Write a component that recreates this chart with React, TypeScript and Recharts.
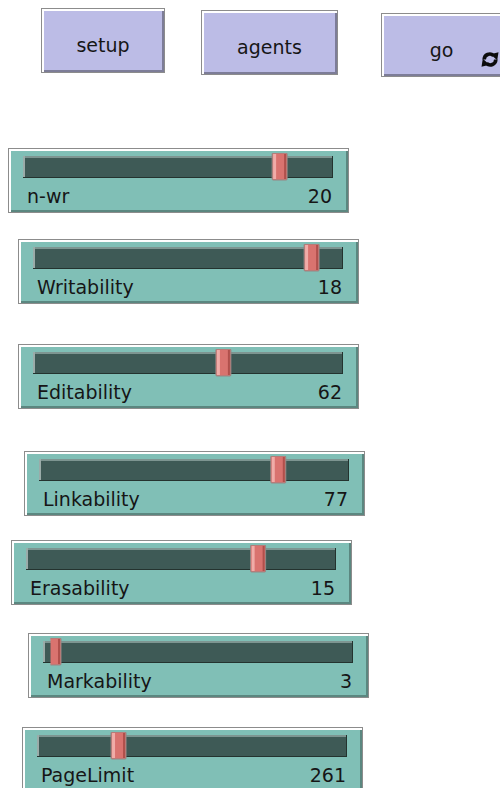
import React from 'react';
import { BarChart, Bar, XAxis, YAxis } from 'recharts';

// slider widgets, top to bottom
const sliderNames = ['n-wr', 'Writability', 'Editability', 'Linkability', 'Erasability', 'Markability', 'PageLimit'];
const sliderValues = [20, 18, 62, 77, 15, 3, 261];
const sliderMins = [1, 1, 0, 0, 0, 2, 0];
const sliderMaxes = [23.5, 19.5, 100, 98, 19.7, 100, 1040];

const buttonNames = ['setup', 'agents', 'go'];

// where each widget sits in the 500x788 frame
const sliderBoxes = [
  { left: 8, top: 148 },
  { left: 18, top: 239 },
  { left: 18, top: 344 },
  { left: 24, top: 451 },
  { left: 11, top: 540 },
  { left: 28, top: 633 },
  { left: 22, top: 727 },
];
const buttonBoxes = [
  { left: 41, top: 8, width: 124, height: 65 },
  { left: 201, top: 10, width: 137, height: 65 },
  { left: 381, top: 13, width: 126, height: 64 },
];

const BOX_W = 341;
const BOX_H = 65;
const TRACK_W = 310;
const TRACK_H = 22;
const KNOB_W = 15;
const FONT = '"DejaVu Sans", Verdana, sans-serif';
const INK = '#161616';

function bevel(fill: string, dark: string): React.CSSProperties {
  return {
    position: 'absolute',
    background: fill,
    boxShadow: `inset 0 0 0 1px #8c8c8c, inset 3px 3px 0 #ffffff, inset -3px -3px 0 ${dark}`,
  };
}

const Track = (props: any) => {
  const { x, y, width, height } = props;
  return (
    <g>
      <rect x={x} y={y} width={width} height={height} fill="#3e5a56" />
      <rect x={x} y={y} width={width} height={2} fill="#7d9591" />
      <rect x={x} y={y} width={2} height={height} fill="#9aaca9" />
      <rect x={x} y={y + height - 1} width={width} height={1} fill="#24332f" />
      <rect x={x + width - 1} y={y} width={1} height={height} fill="#24332f" />
    </g>
  );
};

const Knob = (props: any) => {
  const { x, y, width, height } = props;
  const left = x + width - KNOB_W / 2;
  return (
    <g>
      <rect x={left} y={y - 3} width={KNOB_W} height={height + 5} rx={1} fill="#d9736f" stroke="#958684" strokeWidth={1} />
      <rect x={left + 1} y={y - 2} width={3} height={height + 3} fill="#f0aca8" />
      <rect x={left + KNOB_W - 3} y={y - 2} width={2} height={height + 3} fill="#b0504c" />
    </g>
  );
};

function Slider({ i }: { i: number }) {
  const box = sliderBoxes[i];
  const data = [{ name: sliderNames[i], value: sliderValues[i] }];
  return (
    <div style={{ ...bevel('#80bfb6', '#5b8780'), left: box.left, top: box.top, width: BOX_W, height: BOX_H }}>
      <div style={{ position: 'absolute', left: 15, top: 5 }}>
        <BarChart
          width={TRACK_W}
          height={TRACK_H + 6}
          data={data}
          layout="vertical"
          margin={{ top: 3, right: 0, bottom: 3, left: 0 }}
          barCategoryGap={0}
        >
          <XAxis
            type="number"
            domain={[sliderMins[i], sliderMaxes[i]]}
            allowDataOverflow
            hide
            padding={{ left: KNOB_W / 2, right: KNOB_W / 2 }}
          />
          <YAxis type="category" dataKey="name" hide />
          <Bar dataKey="value" background={Track} shape={Knob} isAnimationActive={false} />
        </BarChart>
      </div>
      <div style={{ position: 'absolute', left: 19, top: 37, lineHeight: '22px', fontSize: 19, color: INK, whiteSpace: 'nowrap' }}>
        {sliderNames[i]}
      </div>
      <div style={{ position: 'absolute', right: 17, top: 37, lineHeight: '22px', fontSize: 19, color: INK, whiteSpace: 'nowrap' }}>
        {sliderValues[i]}
      </div>
    </div>
  );
}

function ForeverIcon() {
  return (
    <svg width={18} height={17} viewBox="0 0 18 17" style={{ position: 'absolute', right: 8, top: 38 }}>
      <path d="M3.2 8.5 A5.5 5.5 0 0 1 12.5 4.6" stroke="#0c0c0c" strokeWidth={3.6} fill="none" />
      <path d="M9.5 3.2 L17.5 1.2 L16.2 9.2 Z" fill="#0c0c0c" />
      <path d="M14.8 8.5 A5.5 5.5 0 0 1 5.5 12.4" stroke="#0c0c0c" strokeWidth={3.6} fill="none" />
      <path d="M8.5 13.8 L0.5 15.8 L1.8 7.8 Z" fill="#0c0c0c" />
    </svg>
  );
}

function Button({ i }: { i: number }) {
  const box = buttonBoxes[i];
  return (
    <div style={{ ...bevel('#bcbce6', '#7d7d98'), left: box.left, top: box.top, width: box.width, height: box.height }}>
      <div
        style={{
          position: 'absolute',
          left: 0,
          width: box.width - (i === 2 ? 5 : 0),
          top: 26,
          lineHeight: '22px',
          fontSize: 19,
          textAlign: 'center',
          color: INK,
        }}
      >
        {buttonNames[i]}
      </div>
      {i === 2 && <ForeverIcon />}
    </div>
  );
}

export default function App() {
  return (
    <div
      style={{
        position: 'fixed',
        left: 0,
        top: 0,
        width: 500,
        height: 788,
        overflow: 'hidden',
        background: '#ffffff',
        fontFamily: FONT,
      }}
    >
      {buttonNames.map((_, i) => (
        <Button key={buttonNames[i]} i={i} />
      ))}
      {sliderNames.map((_, i) => (
        <Slider key={sliderNames[i]} i={i} />
      ))}
    </div>
  );
}
